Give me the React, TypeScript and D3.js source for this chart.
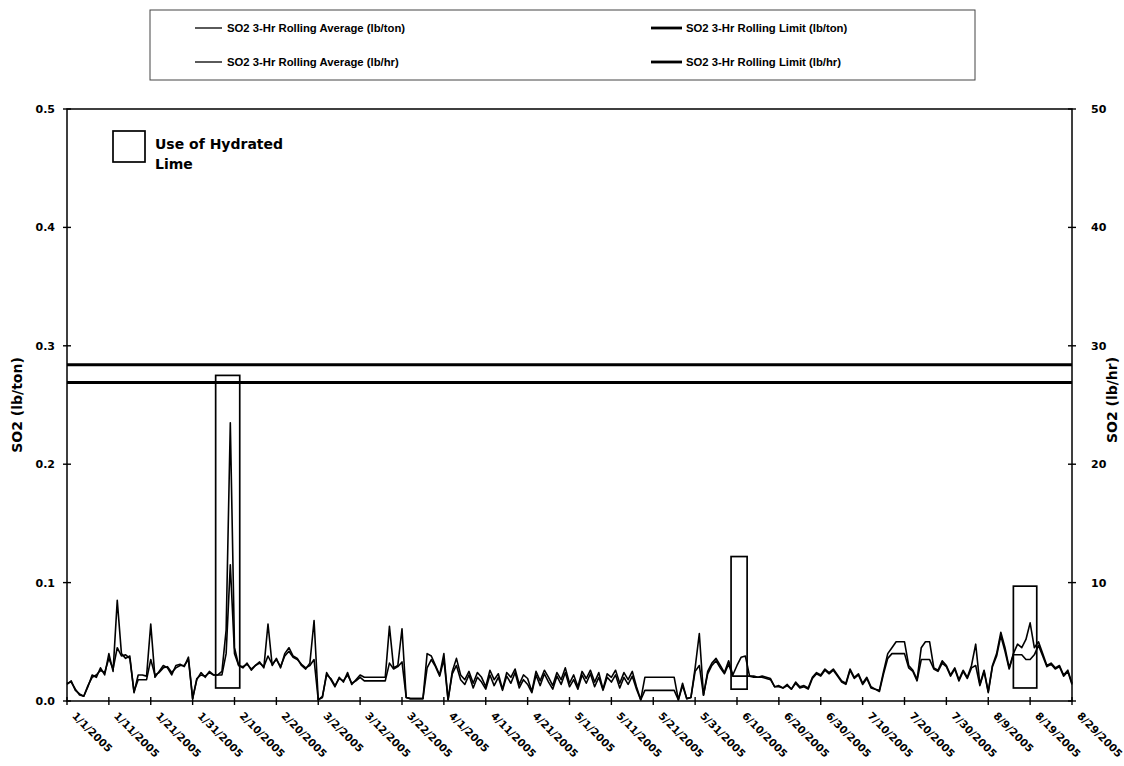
import React from 'react';
import * as d3 from 'd3';

const W = 1124;
const H = 766;

const startDate = '1/1/2005';
const endDate = '8/29/2005';

const xTickLabels = [
  '1/1/2005', '1/11/2005', '1/21/2005', '1/31/2005', '2/10/2005', '2/20/2005', '3/2/2005',
  '3/12/2005', '3/22/2005', '4/1/2005', '4/11/2005', '4/21/2005', '5/1/2005', '5/11/2005',
  '5/21/2005', '5/31/2005', '6/10/2005', '6/20/2005', '6/30/2005', '7/10/2005', '7/20/2005',
  '7/30/2005', '8/9/2005', '8/19/2005', '8/29/2005',
];
const leftTicks = [0, 0.1, 0.2, 0.3, 0.4, 0.5];
const leftTickLabels = ['0.0', '0.1', '0.2', '0.3', '0.4', '0.5'];
const rightTicks = [0, 10, 20, 30, 40, 50];
const rightTickLabels = ['', '10', '20', '30', '40', '50'];

// daily values, one per day from 1/1/2005 to 8/29/2005
const so2LbTon = [
  0.015, 0.016, 0.010, 0.005, 0.004, 0.012, 0.022, 0.020, 0.028, 0.022,
  0.040, 0.025, 0.085, 0.040, 0.036, 0.038, 0.007, 0.022, 0.022, 0.021,
  0.065, 0.020, 0.025, 0.030, 0.028, 0.022, 0.030, 0.031, 0.029, 0.037,
  0.002, 0.018, 0.024, 0.020, 0.025, 0.022, 0.022, 0.025, 0.060, 0.235,
  0.045, 0.030, 0.028, 0.032, 0.026, 0.030, 0.033, 0.028, 0.065, 0.030,
  0.036, 0.028, 0.040, 0.045, 0.038, 0.036, 0.030, 0.027, 0.032, 0.068,
  0.001, 0.003, 0.024, 0.018, 0.012, 0.020, 0.016, 0.024, 0.014, 0.018,
  0.022, 0.020, 0.020, 0.020, 0.020, 0.020, 0.020, 0.063, 0.028, 0.030,
  0.061, 0.003, 0.002, 0.002, 0.002, 0.002, 0.040, 0.038, 0.030, 0.022,
  0.040, 0.001, 0.025, 0.036, 0.022, 0.018, 0.025, 0.015, 0.024, 0.020,
  0.012, 0.026, 0.018, 0.023, 0.010, 0.024, 0.020, 0.027, 0.014, 0.022,
  0.019, 0.008, 0.025, 0.017, 0.026, 0.020, 0.013, 0.024, 0.018, 0.028,
  0.015, 0.022, 0.012, 0.025, 0.019, 0.026, 0.016, 0.024, 0.010, 0.023,
  0.020, 0.026, 0.015, 0.024, 0.018, 0.025, 0.012, 0.001, 0.020, 0.020,
  0.020, 0.020, 0.020, 0.020, 0.020, 0.020, 0.001, 0.015, 0.002, 0.003,
  0.028, 0.057, 0.005, 0.025, 0.032, 0.036, 0.030, 0.024, 0.034, 0.022,
  0.030, 0.037, 0.038, 0.021, 0.021, 0.020, 0.021, 0.020, 0.019, 0.012,
  0.013, 0.011, 0.014, 0.010, 0.016, 0.012, 0.013, 0.011, 0.020, 0.024,
  0.022, 0.027, 0.024, 0.027, 0.022, 0.017, 0.015, 0.027, 0.020, 0.023,
  0.015, 0.020, 0.012, 0.010, 0.009, 0.025, 0.040, 0.045, 0.050, 0.050,
  0.050, 0.030, 0.026, 0.018, 0.045, 0.050, 0.050, 0.028, 0.026, 0.034,
  0.030, 0.022, 0.028, 0.018, 0.026, 0.020, 0.030, 0.048, 0.014, 0.026,
  0.008, 0.030, 0.040, 0.058, 0.045, 0.028, 0.040, 0.048, 0.045, 0.052,
  0.066, 0.045, 0.050, 0.040, 0.030, 0.032, 0.028, 0.030, 0.022, 0.026, 0.015,
];

const so2LbHr = [
  1.4, 1.7, 0.9, 0.6, 0.4, 1.3, 2.0, 2.2, 2.6, 2.4,
  3.6, 2.7, 4.5, 3.8, 3.9, 3.6, 0.8, 1.8, 1.8, 1.8,
  3.5, 2.2, 2.4, 2.8, 2.9, 2.4, 2.8, 3.0, 3.0, 3.5,
  0.2, 1.9, 2.2, 2.1, 2.4, 2.2, 2.2, 2.2, 4.0, 11.5,
  4.0, 3.0, 2.9, 3.1, 2.7, 3.0, 3.2, 2.9, 3.8, 3.1,
  3.5, 2.9, 3.8, 4.2, 3.7, 3.5, 3.1, 2.8, 3.0, 3.5,
  0.1, 0.4, 2.2, 1.9, 1.3, 1.9, 1.7, 2.2, 1.5, 1.7,
  2.0, 1.7, 1.7, 1.7, 1.7, 1.7, 1.7, 3.2, 2.7, 2.9,
  3.3, 0.3, 0.2, 0.2, 0.2, 0.2, 2.8, 3.5, 2.9, 2.1,
  3.5, 0.1, 2.3, 3.0, 1.8, 1.4, 2.2, 1.1, 2.0, 1.6,
  1.0, 2.2, 1.3, 2.0, 0.9, 2.1, 1.5, 2.4, 1.1, 1.8,
  1.4, 0.7, 2.2, 1.3, 2.3, 1.6, 1.0, 2.1, 1.4, 2.4,
  1.2, 1.8, 1.0, 2.2, 1.5, 2.3, 1.2, 2.0, 0.9, 2.0,
  1.6, 2.2, 1.1, 2.0, 1.4, 2.1, 1.0, 0.1, 0.9, 0.9,
  0.9, 0.9, 0.9, 0.9, 0.9, 0.9, 0.1, 1.3, 0.2, 0.3,
  2.5, 3.0, 0.5, 2.3, 3.0, 3.4, 2.8, 2.3, 3.1, 2.1,
  2.1, 2.1, 2.1, 2.1, 2.0, 2.0, 2.0, 1.9, 1.8, 1.2,
  1.2, 1.1, 1.3, 1.0, 1.5, 1.1, 1.2, 1.0, 1.9, 2.3,
  2.1, 2.6, 2.3, 2.6, 2.1, 1.6, 1.4, 2.6, 1.9, 2.2,
  1.4, 1.9, 1.1, 1.0, 0.8, 2.3, 3.6, 4.0, 4.0, 4.0,
  4.0, 2.8, 2.5, 1.7, 3.5, 3.5, 3.5, 2.7, 2.5, 3.2,
  2.9, 2.1, 2.7, 1.7, 2.5, 1.9, 2.8, 3.0, 1.3, 2.5,
  0.7, 2.9, 3.8, 5.5, 4.2, 2.7, 3.9, 3.9, 3.9, 3.5,
  3.5, 3.9, 4.7, 3.8, 2.9, 3.1, 2.7, 2.9, 2.1, 2.5, 1.4,
];

const limitLbTon = 0.269;
const limitLbHr = 28.4;

// periods of hydrated lime use
const limeStart = ['2/5/2005 12', '6/8/2005 14', '8/15/2005 0'];
const limeEnd = ['2/11/2005 6', '6/12/2005 10', '8/20/2005 14'];
const limeTop = [0.275, 0.122, 0.097];
const limeBottom = [0.011, 0.010, 0.011];

const legendLabels = [
  'SO2 3-Hr Rolling Average (lb/ton)',
  'SO2 3-Hr Rolling Limit (lb/ton)',
  'SO2 3-Hr Rolling Average (lb/hr)',
  'SO2 3-Hr Rolling Limit (lb/hr)',
];

const parseDay = d3.timeParse('%m/%d/%Y');
const parseHour = d3.timeParse('%m/%d/%Y %H');

const M = { left: 67, right: 1072, top: 109, bottom: 701 };
const FONT = "'Liberation Sans', Arial, sans-serif";
const TICKFONT = "'DejaVu Sans', Verdana, sans-serif";

export default function App() {
  const t0 = parseDay(startDate) as Date;
  const t1 = parseDay(endDate) as Date;
  const x = d3.scaleTime().domain([t0, t1]).range([M.left, M.right]);
  const yL = d3.scaleLinear().domain([0, 0.5]).range([M.bottom, M.top]);
  const yR = d3.scaleLinear().domain([0, 50]).range([M.bottom, M.top]);

  const dayDate = (i: number) => d3.timeDay.offset(t0, i);

  const lineTon = d3
    .line<number>()
    .x((_, i) => x(dayDate(i)))
    .y((v) => yL(v));
  const lineHr = d3
    .line<number>()
    .x((_, i) => x(dayDate(i)))
    .y((v) => yR(v));

  const legendCols = [
    { lx1: 195, lx2: 222, tx: 227, w: 1.3 },
    { lx1: 651, lx2: 682, tx: 686, w: 2.8 },
  ];
  const legendRows = [28, 62];

  return (
    <div style={{ position: 'absolute', left: 0, top: 0 }}>
      <svg width={W} height={H} style={{ display: 'block', background: '#fff' }}>
        <rect x={0} y={0} width={W} height={H} fill="#fff" />

        {/* legend */}
        <rect x={150} y={10} width={825} height={70} fill="#fff" stroke="#444" strokeWidth={1} />
        {legendLabels.map((lab, k) => {
          const col = legendCols[k % 2];
          const row = legendRows[Math.floor(k / 2)];
          return (
            <g key={lab}>
              <line x1={col.lx1} x2={col.lx2} y1={row} y2={row} stroke="#000" strokeWidth={col.w} />
              <text x={col.tx} y={row + 4} fontFamily={FONT} fontWeight="bold" fontSize={11.3} fill="#000">
                {lab}
              </text>
            </g>
          );
        })}

        {/* plot frame */}
        <rect
          x={M.left}
          y={M.top}
          width={M.right - M.left}
          height={M.bottom - M.top}
          fill="none"
          stroke="#000"
          strokeWidth={1.5}
        />

        {/* left axis ticks */}
        {leftTicks.map((v, i) => (
          <g key={'l' + i}>
            <line x1={M.left - 4} x2={M.left + 4} y1={yL(v)} y2={yL(v)} stroke="#000" strokeWidth={1.4} />
            <text
              x={M.left - 12}
              y={yL(v) + 4}
              textAnchor="end"
              fontFamily={TICKFONT}
              fontWeight="bold"
              fontSize={11}
            >
              {leftTickLabels[i]}
            </text>
          </g>
        ))}
        {/* right axis ticks */}
        {rightTicks.map((v, i) => (
          <g key={'r' + i}>
            <line x1={M.right - 4} x2={M.right + 4} y1={yR(v)} y2={yR(v)} stroke="#000" strokeWidth={1.4} />
            <text x={M.right + 19} y={yR(v) + 4} fontFamily={TICKFONT} fontWeight="bold" fontSize={11}>
              {rightTickLabels[i]}
            </text>
          </g>
        ))}

        {/* x axis ticks and labels */}
        {xTickLabels.map((lab) => {
          const tx = x(parseDay(lab) as Date);
          return (
            <g key={lab}>
              <line x1={tx} x2={tx} y1={M.bottom - 4} y2={M.bottom + 4} stroke="#000" strokeWidth={1.4} />
              <text
                transform={`translate(${tx + 7},${M.bottom + 13}) rotate(45)`}
                fontFamily={TICKFONT}
                fontWeight="bold"
                fontSize={10.5}
                dy="0.35em"
              >
                {lab}
              </text>
            </g>
          );
        })}

        {/* axis titles */}
        <text
          transform={`translate(22,${(M.top + M.bottom) / 2}) rotate(-90)`}
          textAnchor="middle"
          fontFamily={TICKFONT}
          fontWeight="bold"
          fontSize={14}
        >
          SO2 (lb/ton)
        </text>
        <text
          transform={`translate(1117,${(M.top + M.bottom) / 2 - 5}) rotate(-90)`}
          textAnchor="middle"
          fontFamily={TICKFONT}
          fontWeight="bold"
          fontSize={14}
        >
          SO2 (lb/hr)
        </text>

        {/* limit lines */}
        <line x1={M.left} x2={M.right} y1={yL(limitLbTon)} y2={yL(limitLbTon)} stroke="#000" strokeWidth={2.8} />
        <line x1={M.left} x2={M.right} y1={yR(limitLbHr)} y2={yR(limitLbHr)} stroke="#000" strokeWidth={2.8} />

        {/* data series */}
        <path d={lineHr(so2LbHr) || ''} fill="none" stroke="#000" strokeWidth={1.6} strokeLinejoin="round" />
        <path d={lineTon(so2LbTon) || ''} fill="none" stroke="#000" strokeWidth={1.6} strokeLinejoin="round" />

        {/* hydrated lime boxes */}
        {limeStart.map((s, i) => {
          const xa = x(parseHour(s) as Date);
          const xb = x(parseHour(limeEnd[i]) as Date);
          const ya = yL(limeTop[i]);
          const yb = yL(limeBottom[i]);
          return (
            <rect key={s} x={xa} y={ya} width={xb - xa} height={yb - ya} fill="none" stroke="#000" strokeWidth={1.7} />
          );
        })}

        {/* inset legend */}
        <rect x={113} y={131} width={32} height={31} fill="#fff" stroke="#000" strokeWidth={1.7} />
        <text x={155} y={149} fontFamily={TICKFONT} fontWeight="bold" fontSize={14}>
          Use of Hydrated
        </text>
        <text x={155} y={169} fontFamily={TICKFONT} fontWeight="bold" fontSize={14}>
          Lime
        </text>
      </svg>
    </div>
  );
}
